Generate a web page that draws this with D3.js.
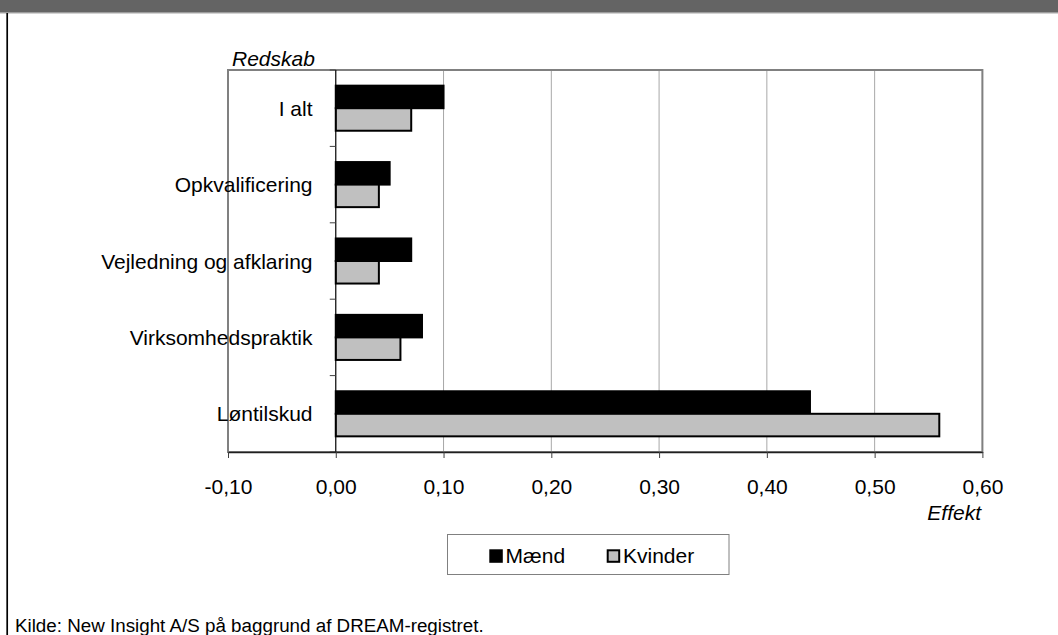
<!DOCTYPE html>
<html><head><meta charset="utf-8">
<script src="https://cdn.jsdelivr.net/npm/d3@7"></script>
<style>body{margin:0;background:#fff;} svg{display:block;font-family:"Liberation Sans",Arial,sans-serif;}</style>
</head><body>
<script>
const categories = ["I alt","Opkvalificering","Vejledning og afklaring","Virksomhedspraktik","Løntilskud"];
const seriesNames = ["Mænd","Kvinder"];
const maend = [0.10,0.05,0.07,0.08,0.44];
const kvinder = [0.07,0.04,0.04,0.06,0.56];
const xTicks = [-0.10,0.00,0.10,0.20,0.30,0.40,0.50,0.60];
const colors = ["#000000","#c0c0c0"];

const W=1058,H=635;
const svg=d3.select("body").append("svg").attr("width",W).attr("height",H);
svg.append("rect").attr("width",W).attr("height",H).attr("fill","#fff");
svg.append("rect").attr("x",0).attr("y",0).attr("width",W).attr("height",12.7).attr("fill","#646464");
svg.append("line").attr("x1",0).attr("x2",W).attr("y1",13.3).attr("y2",13.3).attr("stroke","#c8c8c8");
svg.append("line").attr("x1",7.2).attr("x2",7.2).attr("y1",13).attr("y2",H).attr("stroke","#000").attr("stroke-width",1.7);

const L=228,R=982.4,T=70,B=452;
const x=d3.scaleLinear().domain([-0.10,0.60]).range([L,R]);
const y=d3.scaleBand().domain(categories).range([T,B]).paddingInner(0.41).paddingOuter(0.205);
const y1=d3.scaleBand().domain(seriesNames).range([0,y.bandwidth()]);

// gridlines
svg.append("g").selectAll("line").data(xTicks.filter(d=>d>0.001)).join("line")
  .attr("x1",d=>x(d)).attr("x2",d=>x(d)).attr("y1",T).attr("y2",B)
  .attr("stroke","#a8a8a8").attr("stroke-width",1);

// plot border
svg.append("rect").attr("x",L).attr("y",T).attr("width",R-L).attr("height",B-T)
  .attr("fill","none").attr("stroke","#808080").attr("stroke-width",2);

// bars
const data = categories.map((c,i)=>({c,vals:[{s:seriesNames[0],v:maend[i]},{s:seriesNames[1],v:kvinder[i]}]}));
const g=svg.append("g");
data.forEach(d=>{
  d.vals.forEach((e,j)=>{
    g.append("rect")
      .attr("x",x(Math.min(0,e.v))).attr("y",y(d.c)+y1(e.s))
      .attr("width",Math.abs(x(e.v)-x(0))).attr("height",y1.bandwidth())
      .attr("fill",colors[j]).attr("stroke","#000").attr("stroke-width",2);
  });
});

// zero axis
svg.append("line").attr("x1",x(0)).attr("x2",x(0)).attr("y1",T).attr("y2",B).attr("stroke","#000").attr("stroke-width",1.2);
// category ticks
const bounds=d3.range(categories.length+1).map(i=>T+i*(B-T)/categories.length);
svg.append("g").selectAll("line").data(bounds).join("line")
  .attr("x1",x(0)-6).attr("x2",x(0)).attr("y1",d=>d).attr("y2",d=>d).attr("stroke","#404040");

// x axis
const fmt=d=>d3.format(".2f")(d).replace(".",",").replace("−","-");
const xAxis=svg.append("g").attr("transform",`translate(0,${B})`)
  .call(d3.axisBottom(x).tickValues(xTicks).tickSize(6).tickSizeOuter(0).tickFormat(fmt));
xAxis.select(".domain").attr("stroke","#202020").attr("stroke-width",1.6);
xAxis.selectAll(".tick line").attr("stroke","#404040");
xAxis.selectAll("text").attr("font-size",21).attr("font-family","Liberation Sans, Arial, sans-serif").attr("fill","#000").attr("dy",null).attr("y",42);

// category labels
svg.append("g").selectAll("text").data(categories).join("text")
  .attr("x",312.5).attr("y",d=>y(d)+y.bandwidth()/2+7.5).attr("text-anchor","end")
  .attr("font-size",21).text(d=>d);

svg.append("text").attr("x",232).attr("y",66).attr("font-size",21).attr("font-style","italic").text("Redskab");
svg.append("text").attr("x",981).attr("y",519.5).attr("font-size",21).attr("font-style","italic").attr("text-anchor","end").text("Effekt");

// legend
const lg=svg.append("g");
lg.append("rect").attr("x",447.5).attr("y",534.5).attr("width",281.5).attr("height",40).attr("fill","#fff").attr("stroke","#808080");
const legX=[489.3,606.7];
seriesNames.forEach((s,i)=>{
  lg.append("rect").attr("x",legX[i]+1).attr("y",550.3).attr("width",11.5).attr("height",11.5)
    .attr("fill",colors[i]).attr("stroke","#000").attr("stroke-width",2);
  lg.append("text").attr("x",legX[i]+16.3).attr("y",562.7).attr("font-size",21).text(s);
});

svg.append("text").attr("x",15).attr("y",632).attr("font-size",18.8).text("Kilde: New Insight A/S på baggrund af DREAM-registret.");
</script>
</body></html>
